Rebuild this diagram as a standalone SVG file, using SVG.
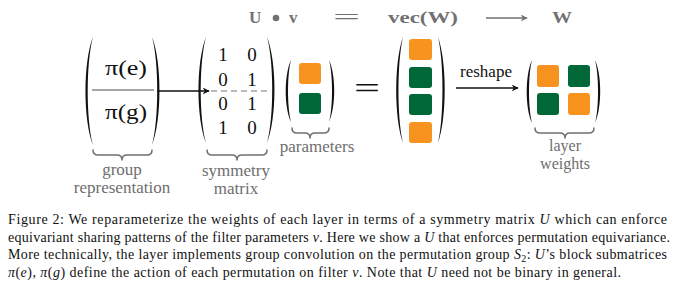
<svg xmlns="http://www.w3.org/2000/svg" width="680" height="285" viewBox="0 0 680 285">
<style>
.lbl{font-family:'Liberation Serif',serif;font-size:17px;fill:#6e6e6e;text-anchor:middle}
.hdr{font-family:'Liberation Serif',serif;font-size:17px;font-weight:bold;fill:#717171}
.mat{font-family:'Liberation Serif',serif;font-size:19px;fill:#111;text-anchor:middle}
.pi{font-family:'Liberation Serif',serif;font-size:20px;fill:#111;text-anchor:middle}
.cap{font-family:'Liberation Serif',serif;font-size:14px;fill:#111}
.it{font-style:italic}
.par{fill:#111}
.brace{fill:none;stroke:#707070;stroke-width:1.5;stroke-linecap:round;stroke-linejoin:round}
.or{fill:#F7931E}
.gr{fill:#006838}
.conn{stroke:#111;stroke-width:1.4;fill:none}
</style>
<defs>
<marker id="ah" viewBox="0 0 10 10" refX="9" refY="5" markerWidth="7" markerHeight="7" orient="auto" markerUnits="userSpaceOnUse">
<path d="M0,0 L10,5 L0,10 L3,5 Z" fill="#111"/>
</marker>
<marker id="ahg" viewBox="0 0 10 10" refX="9" refY="5" markerWidth="7" markerHeight="7" orient="auto" markerUnits="userSpaceOnUse">
<path d="M0,0 L10,5 L0,10 L3,5 Z" fill="#717171"/>
</marker>
</defs>

<g id="header">
<text class="hdr" x="249" y="23">U</text>
<circle cx="276" cy="18" r="3.3" fill="#717171"/>
<text class="hdr" x="289" y="23">v</text>
<text class="hdr" x="333" y="24" textLength="27" lengthAdjust="spacingAndGlyphs" style="font-weight:normal;font-size:20px">=</text>
<text class="hdr" x="388" y="23" textLength="70" lengthAdjust="spacingAndGlyphs">vec(W)</text>
<text class="hdr" x="552" y="23" textLength="20" lengthAdjust="spacingAndGlyphs">W</text>
</g>

<g id="group-representation">
<path class="par" d="M93,37 C83,62 83,120 93,145 C86,120 86,62 93,37 Z"/>
<path class="par" d="M152,37 C162,62 162,120 152,145 C159,120 159,62 152,37 Z"/>
<text class="pi" x="126" y="75" textLength="42" lengthAdjust="spacingAndGlyphs">π(e)</text>
<line x1="92" y1="90" x2="154" y2="90" stroke="#8a8a8a" stroke-width="1.3"/>
<text class="pi" x="126" y="119" textLength="42" lengthAdjust="spacingAndGlyphs">π(g)</text>
<path class="brace" d="M93,150 Q93,155 98,155 L117,155 Q122,155 122,160 Q122,155 127,155 L147,155 Q152,155 152,150"/>
<text class="lbl" x="122" y="175">group</text>
<text class="lbl" x="122" y="193">representation</text>
</g>

<g id="symmetry-matrix">
<path class="par" d="M206,37 C196,62 196,118 206,143 C199,118 199,62 206,37 Z"/>
<path class="par" d="M267,37 C277,62 277,118 267,143 C274,118 274,62 267,37 Z"/>
<text class="mat" x="223" y="61">1</text><text class="mat" x="252" y="61">0</text>
<text class="mat" x="223" y="86">0</text><text class="mat" x="252" y="86">1</text>
<text class="mat" x="223" y="110">0</text><text class="mat" x="252" y="110">1</text>
<text class="mat" x="223" y="134">1</text><text class="mat" x="252" y="134">0</text>
<line x1="211" y1="91" x2="271" y2="91" stroke="#777" stroke-width="1.1" stroke-dasharray="6,4"/>
<path class="brace" d="M207,150 Q207,155 212,155 L232,155 Q237,155 237,160 Q237,155 242,155 L262,155 Q267,155 267,150"/>
<text class="lbl" x="236" y="176">symmetry</text>
<text class="lbl" x="236" y="194">matrix</text>
</g>

<g id="parameters">
<path class="par" d="M291,60 C284,75 284,107 291,122 C287,107 287,75 291,60 Z"/>
<path class="par" d="M329,60 C336,75 336,107 329,122 C333,107 333,75 329,60 Z"/>
<rect class="or" x="299" y="63" width="22" height="21" rx="3"/>
<rect class="gr" x="299" y="93" width="22" height="21" rx="3"/>
<path class="brace" d="M292,128 Q292,133 297,133 L305,133 Q310,133 310,138 Q310,133 315,133 L324,133 Q329,133 329,128"/>
<text class="lbl" x="317" y="152">parameters</text>
</g>

<g id="equals">
<text x="354" y="98" font-family="'Liberation Serif', serif" font-size="30" fill="#111" textLength="26" lengthAdjust="spacingAndGlyphs">=</text>
</g>

<g id="vec-W">
<path class="par" d="M403,37 C394,62 394,118 403,143 C397,118 397,62 403,37 Z"/>
<path class="par" d="M438,37 C447,62 447,118 438,143 C444,118 444,62 438,37 Z"/>
<rect class="or" x="409" y="39" width="23" height="21" rx="3"/>
<rect class="gr" x="409" y="67" width="23" height="21" rx="3"/>
<rect class="gr" x="409" y="94" width="23" height="21" rx="3"/>
<rect class="or" x="409" y="122" width="23" height="21" rx="3"/>
</g>

<g id="layer-weights">
<path class="par" d="M532,60 C525,75 525,108 532,123 C528,108 528,75 532,60 Z"/>
<path class="par" d="M595,60 C602,75 602,108 595,123 C599,108 599,75 595,60 Z"/>
<rect class="or" x="537" y="65" width="22" height="22" rx="3"/>
<rect class="gr" x="568" y="65" width="22" height="22" rx="3"/>
<rect class="gr" x="537" y="93" width="22" height="22" rx="3"/>
<rect class="or" x="568" y="93" width="22" height="22" rx="3"/>
<path class="brace" d="M535,128 Q535,133 540,133 L560,133 Q565,133 565,138 Q565,133 570,133 L589,133 Q594,133 594,128"/>
<text class="lbl" x="565" y="151" style="font-size:16px">layer</text>
<text class="lbl" x="565" y="169" style="font-size:16px">weights</text>
</g>

<g id="connectors">
<line class="conn" x1="157" y1="91" x2="209" y2="91" marker-end="url(#ah)"/>
<line class="conn" x1="456" y1="88" x2="518" y2="88" marker-end="url(#ah)"/>
<text x="486" y="77" font-family="'Liberation Serif', serif" font-size="17" fill="#111" text-anchor="middle">reshape</text>
<line x1="486" y1="18" x2="527" y2="18" stroke="#717171" stroke-width="1.3" marker-end="url(#ahg)"/>
</g>

<g id="caption">
<text class="cap" x="8" y="224" textLength="659" lengthAdjust="spacing">Figure 2: We reparameterize the weights of each layer in terms of a symmetry matrix <tspan class="it">U</tspan> which can enforce</text>
<text class="cap" x="8" y="241.5" textLength="662" lengthAdjust="spacing">equivariant sharing patterns of the filter parameters <tspan class="it">v</tspan>. Here we show a <tspan class="it">U</tspan> that enforces permutation equivariance.</text>
<text class="cap" x="8" y="259" textLength="659" lengthAdjust="spacing">More technically, the layer implements group convolution on the permutation group <tspan class="it">S</tspan><tspan font-size="10" dy="3">2</tspan><tspan dy="-3">: </tspan><tspan class="it">U</tspan>’s block submatrices</text>
<text class="cap" x="8" y="276.5" textLength="613" lengthAdjust="spacing"><tspan class="it">π</tspan>(<tspan class="it">e</tspan>), <tspan class="it">π</tspan>(<tspan class="it">g</tspan>) define the action of each permutation on filter <tspan class="it">v</tspan>. Note that <tspan class="it">U</tspan> need not be binary in general.</text>
</g>
</svg>
